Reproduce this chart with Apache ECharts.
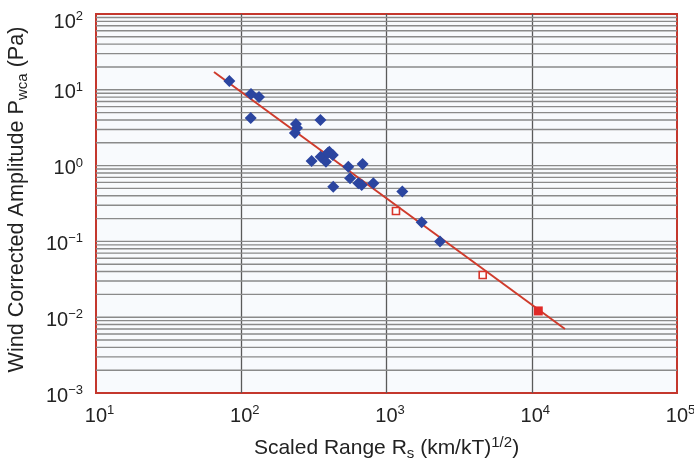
<!DOCTYPE html>
<html>
<head>
<meta charset="utf-8">
<script src="https://cdn.jsdelivr.net/npm/echarts@6/dist/echarts.min.js"></script>
<style>html,body{margin:0;padding:0;background:#fff;}#c{width:694px;height:468px;}</style>
</head>
<body>
<div id="c"></div>
<script>
// Measured blue diamonds: [scaled range, amplitude]
const bluePoints = [
  [82.8, 13.1], [116.7, 8.8], [132.5, 8.04], [116.2, 4.25], [351, 4.0],
  [238, 3.54], [242, 3.13], [234, 2.69], [305, 1.15], [352, 1.31],
  [383, 1.125], [404, 1.52], [427, 1.38], [394, 1.47], [546, 0.967],
  [685, 1.05], [561, 0.68], [430, 0.527], [640, 0.583], [675, 0.555],
  [811, 0.583], [1285, 0.455], [1747, 0.179], [2335, 0.100]
];
// Red open squares
const openSquares = [[1162, 0.252], [4595, 0.036]];
// Red filled square
const filledSquares = [[11090, 0.0121]];
// Fit line endpoints
const fitLine = [[64.9, 17.2], [16940, 0.00698]];
// Axis ranges (decades)
const xRange = [10, 100000];
const yRange = [0.001, 100];
const yDecades = [0.001, 0.01, 0.1, 1, 10];
const mantissas = [1, 2, 3, 4, 5, 6, 7, 8, 9];

const gridSeries = [];
yDecades.forEach(d => mantissas.forEach(m => {
  const v = d * m;
  if (v > yRange[0] * 1.0001 && v < yRange[1] * 0.9999) {
    gridSeries.push({
      type: 'line', data: [[xRange[0], v], [xRange[1], v]], symbol: 'none', silent: true, z: 1,
      lineStyle: {color: '#8a8a8a', width: 1.4}
    });
  }
}));

const FF = 'Liberation Sans';
function expStr(v) {
  const e = Math.round(Math.log10(v));
  return {e: e, s: e < 0 ? '\u2212' + (-e) : String(e)};
}
function xLabel(v) {
  const r = expStr(v);
  return '{b|10}{s|' + r.s + '}';
}
function yLabel(v) {
  const r = expStr(v);
  const gap = r.e === 2 ? '{g2| }\n' : '{g| }\n';
  return gap + '{b|10}{s|' + r.s + '}';
}
const tickRich = {
  b: {fontSize: 20, color: '#222', fontFamily: FF, lineHeight: 22, verticalAlign: 'bottom'},
  s: {fontSize: 13, color: '#222', fontFamily: FF, lineHeight: 13, verticalAlign: 'top'},
  g: {fontSize: 1, lineHeight: 4},
  g2: {fontSize: 1, lineHeight: 14}
};

const chart = echarts.init(document.getElementById('c'), null, {renderer: 'canvas'});
chart.setOption({
  animation: false,
  backgroundColor: '#ffffff',
  grid: {
    left: 96, right: 17, top: 14, bottom: 75,
    containLabel: false, outerBoundsMode: 'none',
    show: true, backgroundColor: '#f8fafd', borderColor: '#c4372d', borderWidth: 2
  },
  xAxis: {
    type: 'log', logBase: 10, min: xRange[0], max: xRange[1],
    axisLine: {show: false}, axisTick: {show: false},
    splitLine: {show: true, showMinLine: false, showMaxLine: false, lineStyle: {color: '#5a5a5a', width: 1.3}},
    axisLabel: {margin: 11, formatter: xLabel, rich: tickRich, padding: [0, 0, 0, 7]},
    name: '{t|Scaled Range R}{sub|s}{t| (km/kT)}{sup|1/2}{t|)}',
    nameLocation: 'middle', nameGap: 42,
    nameTextStyle: {
      rich: {
        t: {fontSize: 21, color: '#222', fontFamily: FF, lineHeight: 26, verticalAlign: 'middle'},
        sub: {fontSize: 15, color: '#222', fontFamily: FF, lineHeight: 15, verticalAlign: 'bottom'},
        sup: {fontSize: 15, color: '#222', fontFamily: FF, lineHeight: 15, verticalAlign: 'top'}
      }
    }
  },
  yAxis: {
    type: 'log', logBase: 10, min: yRange[0], max: yRange[1],
    axisLine: {show: false}, axisTick: {show: false},
    splitLine: {show: false},
    axisLabel: {margin: 13, formatter: yLabel, rich: tickRich},
    name: '{t|Wind Corrected Amplitude P}{sub|wca}{t| (Pa)}',
    nameLocation: 'middle', nameGap: 66, nameRotate: 90,
    nameTextStyle: {
      padding: [0, 0, 0, 8],
      rich: {
        t: {fontSize: 21.6, color: '#222', fontFamily: FF, lineHeight: 26, verticalAlign: 'middle'},
        sub: {fontSize: 15, color: '#222', fontFamily: FF, lineHeight: 15, verticalAlign: 'bottom'}
      }
    }
  },
  series: gridSeries.concat([
    {
      type: 'line', data: fitLine, symbol: 'none', z: 3,
      lineStyle: {color: '#cf3b2c', width: 2}
    },
    {
      type: 'scatter', data: bluePoints, symbol: 'diamond', symbolSize: [12, 12], z: 4,
      itemStyle: {color: '#2b45a0', opacity: 1}
    },
    {
      type: 'scatter', data: openSquares, symbol: 'rect', symbolSize: 7, z: 4,
      itemStyle: {color: '#ffffff', borderColor: '#d8342a', borderWidth: 1.6, opacity: 1}
    },
    {
      type: 'scatter', data: filledSquares, symbol: 'rect', symbolSize: 9, z: 4,
      itemStyle: {color: '#e02a28', opacity: 1}
    }
  ])
});
</script>
</body>
</html>
